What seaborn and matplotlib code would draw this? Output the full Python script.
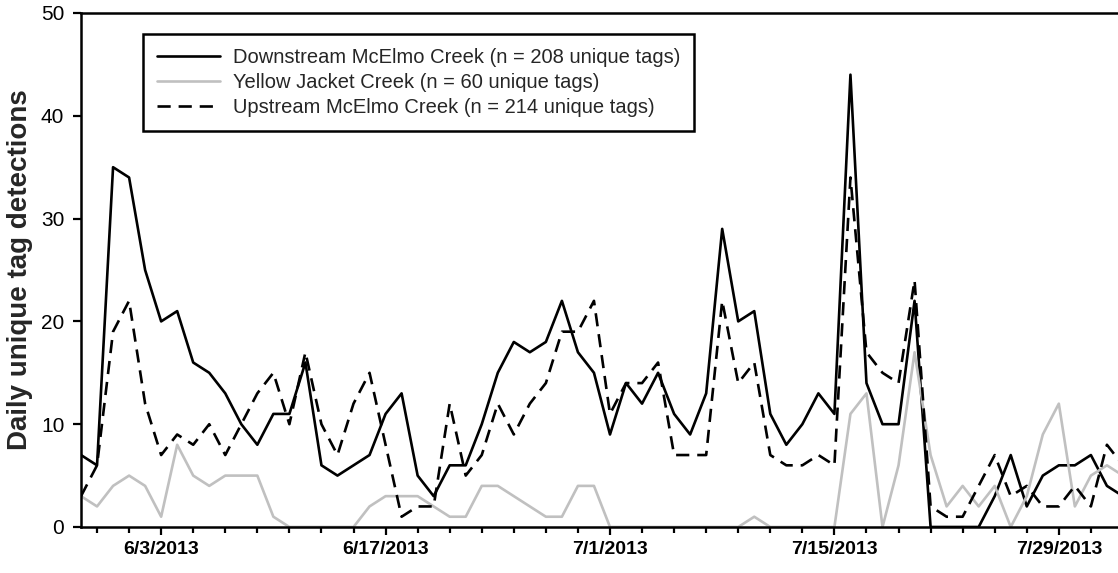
import numpy as np
import pandas as pd
import matplotlib
matplotlib.use("Agg")
import matplotlib.pyplot as plt
import matplotlib.dates as mdates
from matplotlib.ticker import FixedLocator, NullFormatter
import seaborn as sns

# ---------------- data ----------------
start_date = "2013-05-29"
downstream = [7, 6, 35, 34, 25, 20, 21, 16, 15, 13, 10, 8, 11, 11, 16, 6, 5, 6, 7, 11,
              13, 5, 3, 6, 6, 10, 15, 18, 17, 18, 22, 17, 15, 9, 14, 12, 15, 11, 9, 13,
              29, 20, 21, 11, 8, 10, 13, 11, 44, 14, 10, 10, 22, 0, 0, 0, 0, 3, 7, 2,
              5, 6, 6, 7, 4, 3]
yellow_jacket = [3, 2, 4, 5, 4, 1, 8, 5, 4, 5, 5, 5, 1, 0, 0, 0, 0, 0, 2, 3,
                 3, 3, 2, 1, 1, 4, 4, 3, 2, 1, 1, 4, 4, 0, 0, 0, 0, 0, 0, 0,
                 0, 0, 1, 0, 0, 0, 0, 0, 11, 13, 0, 6, 17, 7, 2, 4, 2, 4, 0, 3,
                 9, 12, 2, 5, 6, 5]
upstream = [3, 6, 19, 22, 12, 7, 9, 8, 10, 7, 10, 13, 15, 10, 17, 10, 7, 12, 15, 8,
            1, 2, 2, 12, 5, 7, 12, 9, 12, 14, 19, 19, 22, 11, 14, 14, 16, 7, 7, 7,
            22, 14, 16, 7, 6, 6, 7, 6, 34, 17, 15, 14, 24, 2, 1, 1, 4, 7, 3, 4,
            2, 2, 4, 2, 8, 6]
series_names = ["Downstream McElmo Creek (n = 208 unique tags)",
                "Yellow Jacket Creek (n = 60 unique tags)",
                "Upstream McElmo Creek (n = 214 unique tags)"]
major_tick_dates = ["2013-06-03", "2013-06-17", "2013-07-01", "2013-07-15", "2013-07-29"]
major_tick_labels = ["6/3/2013", "6/17/2013", "7/1/2013", "7/15/2013", "7/29/2013"]
y_ticks = [0, 10, 20, 30, 40, 50]
y_label = "Daily unique tag detections"

# ---------------- build table ----------------
dates = pd.date_range(start_date, periods=len(downstream), freq="D")
df = pd.concat([
    pd.DataFrame({"date": dates, "count": downstream, "site": series_names[0]}),
    pd.DataFrame({"date": dates, "count": yellow_jacket, "site": series_names[1]}),
    pd.DataFrame({"date": dates, "count": upstream, "site": series_names[2]}),
], ignore_index=True)

sns.set_style("ticks")
plt.rcParams["font.family"] = ["Liberation Sans", "DejaVu Sans"]

W, H = 1118, 573
fig = plt.figure(figsize=(W / 100, H / 100), dpi=100)
ax = fig.add_axes([81 / W, 46 / H, (W - 81) / W, 514 / H])

palette = {series_names[0]: "black", series_names[1]: "#c0c0c0", series_names[2]: "black"}
dashes = {series_names[0]: "", series_names[1]: "", series_names[2]: (5, 3)}
sns.lineplot(data=df, x="date", y="count", hue="site", style="site",
             hue_order=series_names, style_order=series_names,
             palette=palette, dashes=dashes, linewidth=1.9, ax=ax, legend=True)

# ---------------- axes ----------------
x0 = pd.Timestamp(start_date)
ax.set_xlim(mdates.date2num(x0), mdates.date2num(x0) + (W - 81) / 16.03)
ax.set_ylim(0, 50)
ax.set_yticks(y_ticks)
ax.set_yticklabels([str(v) for v in y_ticks], fontsize=15)
ax.xaxis.set_major_locator(FixedLocator(mdates.date2num(pd.to_datetime(major_tick_dates))))
ax.set_xticklabels(major_tick_labels, fontsize=14, fontweight="bold")
minor = pd.date_range("2013-05-30", "2013-08-03", freq="2D")
ax.xaxis.set_minor_locator(FixedLocator(mdates.date2num(minor)))
ax.xaxis.set_minor_formatter(NullFormatter())
ax.tick_params(axis="both", which="major", direction="out", length=6, width=1.6,
               color="black", labelcolor="black", pad=4)
ax.tick_params(axis="x", which="minor", direction="out", length=4.5, width=1.6, color="black")
ax.tick_params(axis="y", pad=6)
ax.set_xlabel("")
ax.set_ylabel(y_label, fontsize=20, fontweight="bold", labelpad=6)

for side in ["left", "bottom", "top"]:
    ax.spines[side].set_visible(True)
    ax.spines[side].set_color("black")
    ax.spines[side].set_linewidth(1.8)
ax.spines["right"].set_visible(False)

handles, labels = ax.get_legend_handles_labels()
leg = ax.legend(handles, labels, loc="upper left",
                bbox_to_anchor=(143 / W, 1 - 34 / H), bbox_transform=fig.transFigure,
                fontsize=14.5, frameon=True, fancybox=False, edgecolor="black",
                handlelength=3.1, handletextpad=0.67, borderpad=0.7, labelspacing=0.3,
                borderaxespad=0)
leg.get_frame().set_linewidth(1.8)
leg.get_frame().set_facecolor("white")
leg.get_frame().set_alpha(1)

fig.savefig("out.png", dpi=100)
